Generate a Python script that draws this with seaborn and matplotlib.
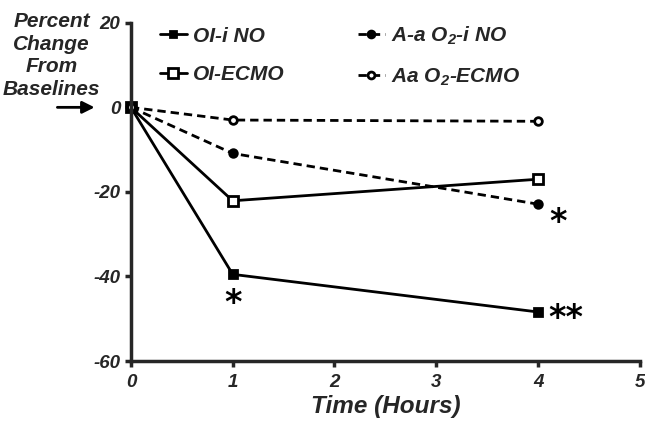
import pandas as pd
import matplotlib
matplotlib.use("Agg")
import matplotlib.pyplot as plt
import seaborn as sns
from matplotlib.lines import Line2D

# data (percent change from baseline)
hours = [0, 1, 4]
oi_ino = [0, -39.5, -48.4]
oi_ecmo = [0, -22.1, -17.0]
aa_ino = [0, -10.9, -22.9]
aa_ecmo = [0, -3.0, -3.3]

labels = ["OI-i NO", "OI-ECMO", r"A-a O$_2$-i NO", r"Aa O$_2$-ECMO"]

sns.set_style("ticks")
plt.rcParams["font.family"] = ["Liberation Sans", "DejaVu Sans"]
plt.rcParams["font.weight"] = "bold"
plt.rcParams["font.style"] = "italic"
plt.rcParams["axes.unicode_minus"] = False
plt.rcParams["mathtext.fontset"] = "custom"
plt.rcParams["mathtext.rm"] = "Liberation Sans:bold:italic"
plt.rcParams["mathtext.it"] = "Liberation Sans:bold:italic"

df = pd.DataFrame({"Time": hours * 4,
                   "Change": oi_ino + oi_ecmo + aa_ino + aa_ecmo,
                   "Series": sum([[l] * len(hours) for l in labels], [])})

fig = plt.figure(figsize=(6.45, 4.22), dpi=100)
ax = fig.add_axes([0.203, 0.1445, 0.789, 0.8015])

dash = (0, (3, 1.8))
styles = {
    labels[0]: dict(marker="s", ls="-", mfc="black", ms=5.5),
    labels[1]: dict(marker="s", ls="-", mfc="white", ms=7.5),
    labels[2]: dict(marker="o", ls=dash, mfc="black", ms=5.5),
    labels[3]: dict(marker="o", ls=dash, mfc="white", ms=5.5),
}

handles = []
for lab in labels:
    st = styles[lab]
    sub = df[df["Series"] == lab]
    sns.lineplot(data=sub, x="Time", y="Change", ax=ax, color="black",
                 linewidth=2, marker=st["marker"], markersize=st["ms"],
                 markerfacecolor=st["mfc"], markeredgecolor="black",
                 markeredgewidth=2, linestyle=st["ls"], legend=False)
    handles.append(Line2D([], [], color="black", lw=2, ls=st["ls"],
                          marker=st["marker"], ms=st["ms"] * 0.9,
                          mfc=st["mfc"], mec="black", mew=2))

# significance marks
star = dict(fontsize=24, ha="center", va="center", fontstyle="normal",
            fontweight="bold", family="DejaVu Sans", color="black")
ax.text(1.0, -46.3, "*", **star)
ax.text(4.2, -27.2, "*", **star)
ax.text(4.27, -50, "**", **star)

ax.set_xlim(0, 5)
ax.set_ylim(-60, 20)
ax.set_xticks([0, 1, 2, 3, 4, 5])
ax.set_yticks([-60, -40, -20, 0, 20])
ax.tick_params(labelsize=13.5, width=2.5, length=4.5)
ax.tick_params(axis="x", pad=4.5)
ax.tick_params(axis="y", pad=3)
ax.set_xlabel("Time (Hours)", fontsize=17.5, fontweight="bold", labelpad=3)
ax.set_ylabel("")
sns.despine(ax=ax)
for s in ["left", "bottom"]:
    ax.spines[s].set_linewidth(2.5)
for ln in ax.lines:
    ln.set_clip_on(False)

fig.text(0.08, 0.972, "Percent\nChange\nFrom\nBaselines", fontsize=15,
         ha="center", va="top", linespacing=1.25)
ax.annotate("", xy=(-0.33, 0), xycoords="data", xytext=(-0.75, 0),
            arrowprops=dict(arrowstyle="-|>", color="black", lw=2,
                            mutation_scale=18), annotation_clip=False)

ax.legend(handles, labels, ncol=2, loc="upper left", bbox_to_anchor=(0.02, 1.05),
          frameon=False, fontsize=15, handlelength=1.3, handletextpad=0.3,
          columnspacing=3.5, labelspacing=0.93)

fig.savefig("out.png", dpi=100)
